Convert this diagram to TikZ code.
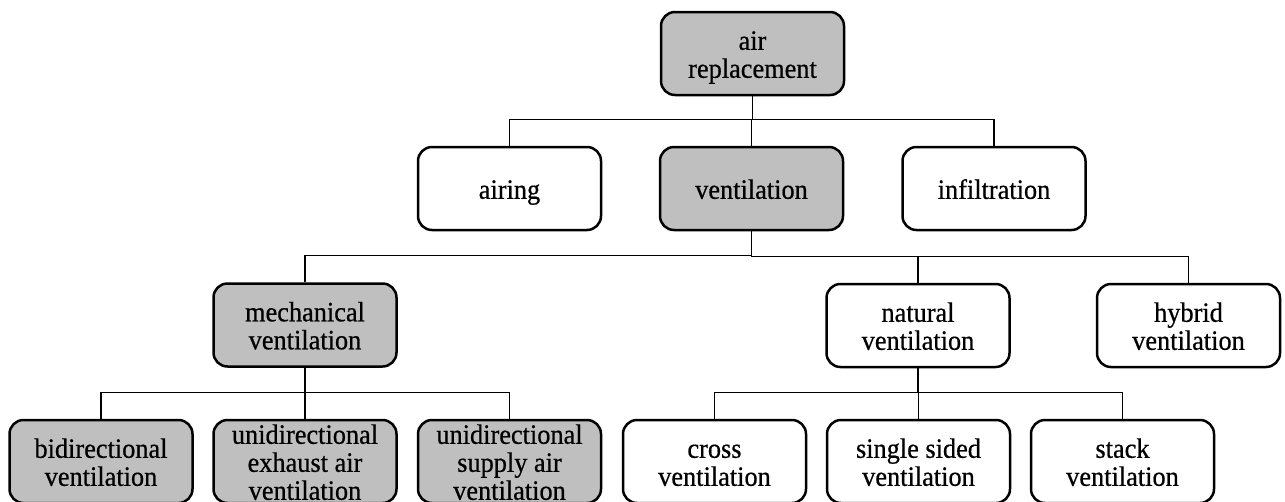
\documentclass[tikz,border=0pt]{standalone}
\usepackage{fontspec}
\setmainfont[FakeStretch=0.94,FakeBold=0.6]{Liberation Serif}
\usetikzlibrary{calc}
\definecolor{boxgray}{HTML}{BFBFBF}
\newcommand\tx[1]{\smash{\raisebox{-10.9pt}{\begin{tabular}{@{}c@{}}#1\end{tabular}}}}
\tikzset{
  box/.style={draw=black, line width=2.5pt, rounded corners=14pt,
    minimum width=183pt, minimum height=83pt, inner sep=0pt,
    font=\fontsize{28}{28}\selectfont},
  greybox/.style={box, fill=boxgray},
  whitebox/.style={box, fill=white},
  conn/.style={draw=black, line width=1.3pt},
}
\newcommand\treeedge[2]{\draw[conn] (#1.south) |- ($(#2.north)+(0,-26.5)$) -- (#2.north);}
\begin{document}
\begin{tikzpicture}[x=1pt,y=-1pt]
\fill[white] (0,0) rectangle (1285,501);
\useasboundingbox (0,0) rectangle (1285,501);
\clip (0,0) rectangle (1285,501);

\node[greybox]  (air)   at (752.5,53.5)  {\tx{air\\replacement}};

\node[whitebox] (airing) at (509.5,188.5) {\tx{airing}};
\node[greybox]  (vent)   at (751.5,188.5) {\tx{ventilation}};
\node[whitebox] (infil)  at (994,188.5)   {\tx{infiltration}};

\node[greybox]  (mech)   at (305,325)     {\tx{mechanical\\ventilation}};
\node[whitebox] (nat)    at (918,325.5)   {\tx{natural\\ventilation}};
\node[whitebox] (hyb)    at (1188.5,325.5){\tx{hybrid\\ventilation}};

\node[greybox]  (bidir)  at (101,461.5)   {\tx{bidirectional\\ventilation}};
\node[greybox]  (exh)    at (305,461.5)   {\tx{unidirectional\\exhaust air\\ventilation}};
\node[greybox]  (sup)    at (509.5,461.5) {\tx{unidirectional\\supply air\\ventilation}};
\node[whitebox] (cross)  at (714.5,461.5) {\tx{cross\\ventilation}};
\node[whitebox] (single) at (918.5,461.5) {\tx{single sided\\ventilation}};
\node[whitebox] (stack)  at (1122.5,461.5){\tx{stack\\ventilation}};

\treeedge{air}{airing}
\treeedge{air}{vent}
\treeedge{air}{infil}
\treeedge{vent}{mech}
\treeedge{vent}{nat}
\treeedge{vent}{hyb}
\treeedge{mech}{bidir}
\treeedge{mech}{exh}
\treeedge{mech}{sup}
\treeedge{nat}{cross}
\treeedge{nat}{single}
\treeedge{nat}{stack}
\end{tikzpicture}
\end{document}
